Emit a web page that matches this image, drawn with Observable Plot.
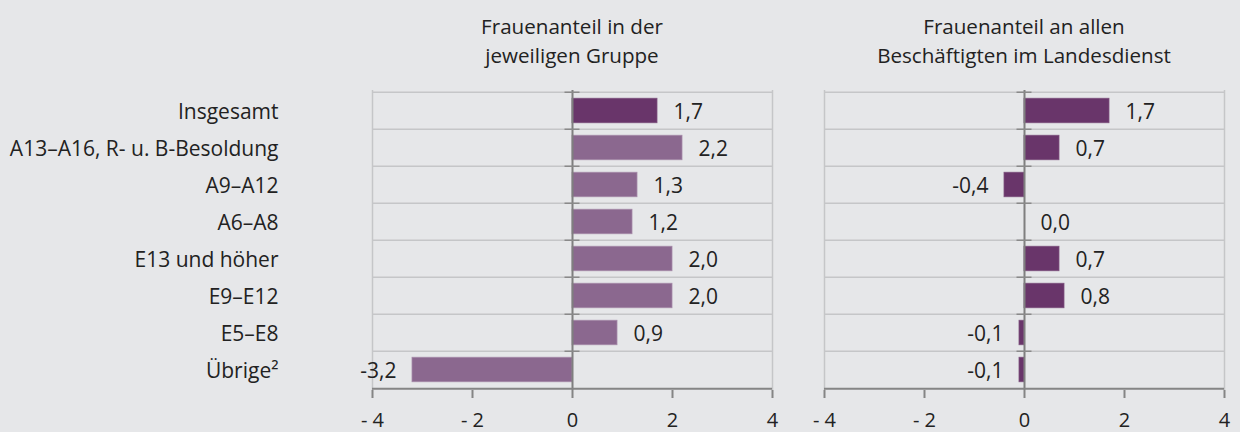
<!DOCTYPE html>
<html>
<head>
<meta charset="utf-8">
<script src="https://cdn.jsdelivr.net/npm/d3@7"></script>
<script src="https://cdn.jsdelivr.net/npm/@observablehq/plot@0.6"></script>
<style>
  html, body { margin: 0; padding: 0; background: #e6e7e9; }
  #wrap { position: relative; width: 1240px; height: 432px; background: #e6e7e9; font-family: "Open Sans", sans-serif; color: #222; overflow: hidden; }
  .title { position: absolute; top: 12px; width: 400px; text-align: center; font-size: 20.6px; line-height: 29px; color: #222; }
  #p1, #p2 { position: absolute; top: 80px; }
  #p1 { left: 0; }
  #p2 { left: 800px; }
</style>
</head>
<body>
<div id="wrap">
  <div class="title" id="t1"></div>
  <div class="title" id="t2"></div>
  <div id="p1"></div>
  <div id="p2"></div>
</div>
<script>
const titles = ["Frauenanteil in der\njeweiligen Gruppe", "Frauenanteil an allen\nBeschäftigten im Landesdienst"];
const categories = ["Insgesamt", "A13–A16, R- u. B-Besoldung", "A9–A12", "A6–A8", "E13 und höher", "E9–E12", "E5–E8", "Übrige²"];
const gruppe = [1.7, 2.2, 1.3, 1.2, 2.0, 2.0, 0.9, -3.2];
const landesdienst = [1.7, 0.7, -0.4, 0.0, 0.7, 0.8, -0.1, -0.1];
const xTicks = [-4, -2, 0, 2, 4];
const xDomain = [-4, 4];

const DARK = "#69356a";
const LIGHT = "#8b688f";
const FS = 21;
const H = 352, MT = 10, MB = 42;
const step = (H - MT - MB) / categories.length;

const fmtVal = v => v.toLocaleString("de-DE", {minimumFractionDigits: 1, maximumFractionDigits: 1});
const fmtTick = d => d < 0 ? "- " + Math.abs(d) : String(d);

function panel(values, fills, width, ml, mr, showY) {
  const data = categories.map((c, i) => ({cat: c, v: values[i], fill: fills[i]}));
  const last = [categories[categories.length - 1]];
  const marks = [
    Plot.ruleY(categories, {y: d => d, dy: -step / 2, stroke: "#c5c6c8", strokeWidth: 1.5}),
    Plot.ruleX(xDomain, {stroke: "#c5c6c8", strokeWidth: 1.5}),
    Plot.barX(data, {x: "v", y: "cat", fill: "fill", stroke: d => d.fill === DARK ? "#7d527d" : "#a68aa8", strokeWidth: 0.8, insetTop: 6.25, insetBottom: 6.25}),
    Plot.ruleX([0], {stroke: "#7f7f7f", strokeWidth: 2}),
    Plot.ruleY(categories, {y: d => d, x1: -0.15, x2: 0.15, dy: -step / 2, stroke: "#8a8a8a", strokeWidth: 1.5}),
    Plot.ruleY(last, {y: d => d, dy: step / 2, stroke: "#858585", strokeWidth: 2}),
    Plot.axisX({ticks: xTicks, tickFormat: fmtTick, tickSize: 8, tickPadding: 14, stroke: "#858585", strokeWidth: 2, fill: "#222", fontSize: 20, label: null, anchor: "bottom"}),
    Plot.text(data.filter(d => d.v >= 0), {x: "v", y: "cat", text: d => fmtVal(d.v), textAnchor: "start", dx: 16, dy: 1, fill: "#222", fontSize: FS}),
    Plot.text(data.filter(d => d.v < 0), {x: "v", y: "cat", text: d => fmtVal(d.v), textAnchor: "end", dx: -16, dy: 1, fill: "#222", fontSize: FS})
  ];
  if (showY) marks.push(Plot.axisY({tickSize: 0, tickPadding: 94, fill: "#222", fontSize: FS, label: null, dy: 1}));
  return Plot.plot({
    width, height: H,
    marginTop: MT, marginBottom: MB, marginLeft: ml, marginRight: mr,
    style: {background: "transparent", fontFamily: "Open Sans, sans-serif", fontSize: FS + "px", color: "#222", overflow: "visible"},
    x: {domain: xDomain, axis: null},
    y: {domain: categories, padding: 0, axis: null},
    marks
  });
}

const fills1 = categories.map((c, i) => i === 0 ? DARK : LIGHT);
const fills2 = categories.map(() => DARK);

document.getElementById("p1").append(panel(gruppe, fills1, 800, 372, 28, true));
document.getElementById("p2").append(panel(landesdienst, fills2, 440, 24, 16, false));

const t1 = document.getElementById("t1");
const t2 = document.getElementById("t2");
t1.innerText = titles[0];
t2.innerText = titles[1];
t1.style.left = (572 - 200) + "px";
t2.style.left = (1024 - 200) + "px";
</script>
</body>
</html>
